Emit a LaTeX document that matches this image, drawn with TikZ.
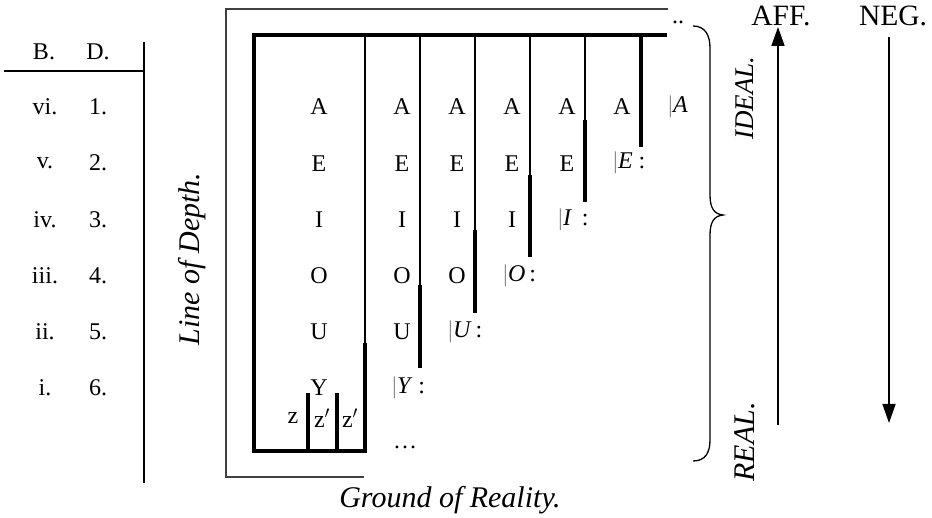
\documentclass[tikz,border=0pt]{standalone}
\usepackage{fontspec}
\setmainfont{Liberation Serif}
\usetikzlibrary{arrows.meta}
\begin{document}
\begin{tikzpicture}[x=1pt,y=-1pt,
  lt/.style={font=\fontsize{24}{27}\selectfont, inner sep=0pt, anchor=center},
  lab/.style={font=\fontsize{30}{33}\selectfont\itshape, inner sep=0pt},
  hdr/.style={font=\fontsize{29.5}{32}\selectfont, inner sep=0pt},
  heavy/.style={line width=4pt},
  hair/.style={line width=1.2pt},
  outer/.style={line width=1.5pt, draw=black!75},
  bar/.style={lt, anchor=west},
  arr/.style={line width=1.6pt, -{Triangle[width=13pt,length=19pt]}}
]
\useasboundingbox (0,0) rectangle (932,518);
% left table
\coordinate (tl) at (4,71); \coordinate (tr) at (144,71);
\coordinate (vt) at (144,42); \coordinate (vb) at (144,483);
\draw[hair] (tl) -- (tr);
\draw[hair] (vt) -- (vb);
\node[lt] (hB) at (44,52) {B.};
\node[lt] (hD) at (98,52) {D.};
\foreach \r/\d [count=\k from 0] in {vi./1.,v./2.,iv./3.,iii./4.,ii./5.,i./6.}{
  \node[lt] (r\k) at (45,{107+56.2*\k}) {\r};
  \node[lt] (d\k) at (98,{107+56.2*\k}) {\d};
}
% outer thin frame
\coordinate (o1) at (668,9); \coordinate (o2) at (226,9);
\coordinate (o3) at (226,477); \coordinate (o4) at (364,477);
\draw[outer] (o1) -- (o2) -- (o3) -- (o4);
% heavy frame
\coordinate (f1) at (667,35); \coordinate (f2) at (254,35);
\coordinate (f3) at (254,451); \coordinate (f4) at (365,451);
\draw[heavy, line join=miter] (f1) -- (f2) -- (f3) -- (f4);
% verticals
\draw[hair] (365,35) -- (365,343);
\draw[heavy] (365,343) -- (365,453);
\draw[hair] (420,35) -- (420,285);
\draw[heavy] (420,285) -- (420,368);
\draw[hair] (475,35) -- (475,230);
\draw[heavy] (475,230) -- (475,313);
\draw[hair] (530,35) -- (530,175);
\draw[heavy] (530,175) -- (530,257);
\draw[hair] (585,35) -- (585,120);
\draw[heavy] (585,120) -- (585,202);
\draw[heavy] (641,35) -- (641,147);
\draw[heavy] (308,393) -- (308,451);
\draw[heavy] (337,393) -- (337,451);
% letters
\foreach \L [count=\k from 0] in {A,E,I,O,U,Y}
  \node[lt] (c1\k) at (319,{107+56.2*\k}) {\L};
\foreach \L [count=\k from 0] in {A,E,I,O,U}
  \node[lt] (c2\k) at (402,{107+56.2*\k}) {\L};
\foreach \L [count=\k from 0] in {A,E,I,O}
  \node[lt] (c3\k) at (457,{107+56.2*\k}) {\L};
\foreach \L [count=\k from 0] in {A,E,I}
  \node[lt] (c4\k) at (512,{107+56.2*\k}) {\L};
\foreach \L [count=\k from 0] in {A,E}
  \node[lt] (c5\k) at (567,{107+56.2*\k}) {\L};
\node[lt] (c60) at (622,107) {A};
% bar labels
\node[bar] (bA) at (668,107) {{\color{black!45}|}\textit{A}};
\node[bar] (bE) at (613,163.2) {{\color{black!45}|}\textit{E}\ :};
\node[bar] (bI) at (558,219.4) {{\color{black!45}|}\textit{I}\ \,:};
\node[bar] (bO) at (503,275.6) {{\color{black!45}|}\textit{O}\,:};
\node[bar] (bU) at (448,331.8) {{\color{black!45}|}\textit{U}\,:};
\node[bar] (bY) at (392,388) {{\color{black!45}|}\textit{Y}\ :};
% z row
\node[lt] (z1) at (293,418) {z};
\node[lt] (z2) at (322,418) {z$'$};
\node[lt] (z3) at (350,418) {z$'$};
\node[lt] (dots) at (405,447) {\dots};
\node[lt] (dd) at (678,22) {..};
% labels
\node[lab, rotate=90] (lod) at (192,259) {Line of Depth.};
\node[lab] (gor) at (450,500) {Ground of Reality.};
\node[lab, rotate=90, font=\fontsize{27}{30}\selectfont\itshape] (ideal) at (745,98) {IDEAL.};
\node[lab, rotate=90] (real) at (745,442) {REAL.};
\node[hdr] (aff) at (781,16) {AFF.};
\node[hdr] (neg) at (893,16) {NEG.};
% brace
\draw[line width=1.3pt] (693,26) .. controls (705,26) and (710,35) .. (710,48)
  -- (710,195) .. controls (710,208) and (714,214) .. (723,215)
  .. controls (714,216) and (710,222) .. (710,235)
  -- (710,440) .. controls (710,453) and (705,461) .. (693,461);
% arrows
\coordinate (au) at (778,425); \coordinate (ad) at (778,27);
\coordinate (nu) at (889,37); \coordinate (nd) at (889,423);
\draw[arr] (au) -- (ad);
\draw[arr] (nu) -- (nd);
\end{tikzpicture}
\end{document}
